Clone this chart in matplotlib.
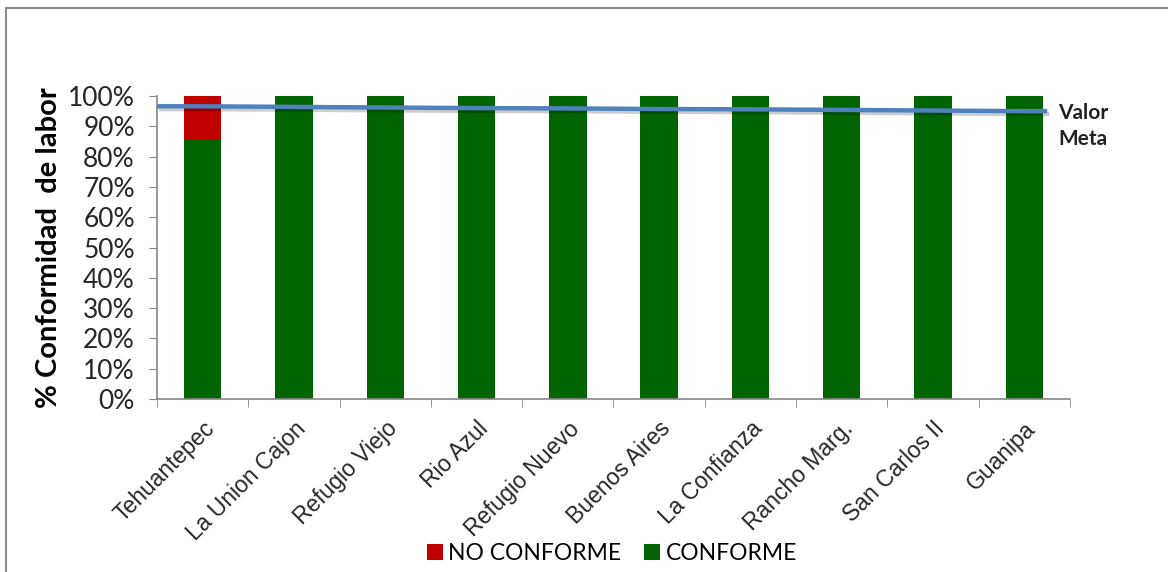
import numpy as np
import matplotlib.pyplot as plt
from matplotlib.patches import Rectangle
import matplotlib.patheffects as pe

# Datos
fincas = ["Tehuantepec", "La Union Cajon", "Refugio Viejo", "Rio Azul", "Refugio Nuevo",
          "Buenos Aires", "La Confianza", "Rancho Marg.", "San Carlos II", "Guanipa"]
conforme = [85.7, 100, 100, 100, 100, 100, 100, 100, 100, 100]
no_conforme = [14.3, 0, 0, 0, 0, 0, 0, 0, 0, 0]
valor_meta = [96.6, 96.4, 96.2, 96.0, 95.9, 95.7, 95.6, 95.4, 95.2, 95.0]

fig = plt.figure(figsize=(11.68, 5.72), dpi=100)
ax = fig.add_axes([0.1344, 0.3024, 0.9161 - 0.1344, 0.8322 - 0.3024])

# marco del grafico
fig.patches.append(Rectangle((6 / 1168, -0.1), 1.5, 1 - 8 / 572 + 0.1, transform=fig.transFigure,
                             fill=False, edgecolor="#8c8c8c", lw=1.5))

x = np.arange(len(fincas))
ax.bar(x, conforme, width=0.41, color="#006400", label="CONFORME", zorder=2)
ax.bar(x, no_conforme, width=0.41, bottom=conforme, color="#C00000", label="NO CONFORME", zorder=2)

# linea de valor meta (extendida al borde izquierdo)
xm = np.concatenate([[-0.5], x, [x[-1] + 0.25]])
ym = np.concatenate([[valor_meta[0]], valor_meta, [valor_meta[-1]]])
ax.plot(xm, ym, color="#4F81BD", lw=3.2, zorder=3, solid_capstyle="butt",
        path_effects=[pe.SimpleLineShadow(offset=(1.5, -2), alpha=0.2), pe.Normal()])
ax.text(0.987, valor_meta[-1] - 5.0, "Valor\nMeta", transform=ax.get_yaxis_transform(),
        fontsize=15, fontweight="bold", family="Lato", color="#222222",
        va="center", ha="left", linespacing=1.4)

ax.set_xlim(-0.5, len(fincas) - 0.5)
ax.set_ylim(0, 100)
ax.set_yticks(np.arange(0, 101, 10))
ax.set_yticklabels([f"{v}%" for v in range(0, 101, 10)], fontsize=19, family="Lato", color="#262626")
ax.set_xticks(x)
ax.set_xticklabels(fincas, rotation=45, ha="right", rotation_mode="anchor",
                   fontsize=16.5, family="Liberation Sans", color="#262626")
ax.set_xticks(np.arange(-0.5, len(fincas)), minor=True)
ax.tick_params(axis="x", which="major", length=0, pad=13)
ax.tick_params(axis="x", which="minor", length=6, color="#868686")
ax.tick_params(axis="y", length=6, color="#868686", pad=10)

for s in ["top", "right"]:
    ax.spines[s].set_visible(False)
for s in ["left", "bottom"]:
    ax.spines[s].set_color("#868686")
    ax.spines[s].set_linewidth(1.2)

ax.set_ylabel("% Conformidad  de labor", fontsize=21, fontweight="bold", family="Lato", labelpad=4)

handles, labels = ax.get_legend_handles_labels()
fig.legend(handles[::-1], labels[::-1], loc="center", bbox_to_anchor=(0.524, 0.033), ncol=2,
           frameon=False, prop={"family": "Lato", "size": 16.5}, handlelength=0.7, handleheight=0.7,
           handletextpad=0.25, columnspacing=1.0)

fig.savefig("out.png", dpi=100)
